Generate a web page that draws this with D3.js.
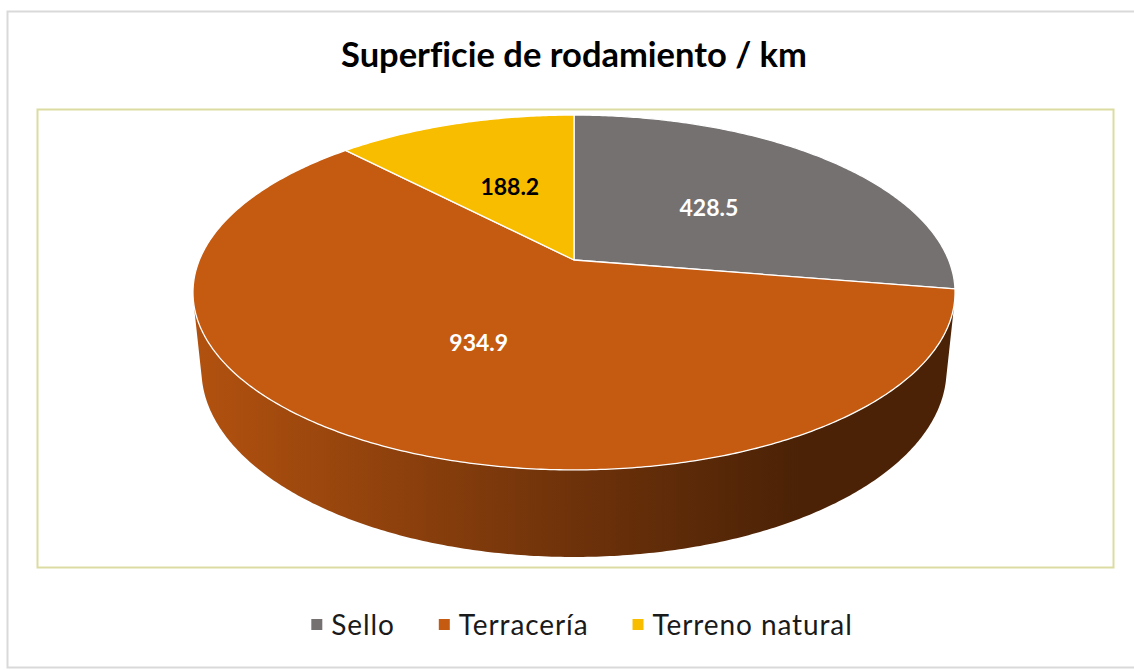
<!DOCTYPE html>
<html>
<head>
<meta charset="utf-8">
<script src="https://cdn.jsdelivr.net/npm/d3@7"></script>
<style>
  body { margin: 0; background: #fff; }
  text { font-family: Lato, "Open Sans", sans-serif; font-variant-ligatures: none; }
</style>
</head>
<body>
<div id="chart"></div>
<script>
// datos del gráfico
const title = "Superficie de rodamiento / km";
const categories = ["Sello", "Terracería", "Terreno natural"];
const values = [428.5, 934.9, 188.2];
const colors = ["#767171", "#C55A11", "#F9BD00"];
const labelColors = ["#ffffff", "#ffffff", "#000000"];

const W = 1134, H = 670;

const svg = d3.select("#chart")
    .append("svg")
    .attr("width", W)
    .attr("height", H);

// bordes (área del gráfico y área de trazado)
svg.append("rect")
    .attr("x", 7.5).attr("y", 11.5)
    .attr("width", 1132).attr("height", 656)
    .attr("fill", "#fff")
    .attr("stroke", "#d9d9d9")
    .attr("stroke-width", 2);

svg.append("rect")
    .attr("x", 37.5).attr("y", 109.5)
    .attr("width", 1076).attr("height", 458)
    .attr("fill", "none")
    .attr("stroke", "#dcdca2")
    .attr("stroke-width", 2);

// título
svg.append("text")
    .attr("x", 574).attr("y", 67)
    .attr("text-anchor", "middle")
    .attr("font-size", 34.5)
    .attr("font-weight", "bold")
    .attr("fill", "#000")
    .text(title);

// proyección en perspectiva del pastel 3D
const cx = 574, cy = 260;
const S = 374.6;            // radio horizontal en pantalla
const phi = Math.asin(0.4578);  // inclinación de la cámara
const RD = 0.2058;          // radio / distancia de la cámara
const depth = 0.2332;       // grosor (en unidades de radio)

function project(theta, f, z) {
    const X = f * Math.sin(theta), Y = f * Math.cos(theta);
    const v = Y * Math.sin(phi) + z * Math.cos(phi);
    const w = Y * Math.cos(phi) - z * Math.sin(phi);
    const p = 1 / (1 + w * RD);
    return [cx + S * X * p, cy - S * v * p];
}

const color = d3.scaleOrdinal().domain(categories).range(colors);

const pie = d3.pie().sort(null).value(d => d.value);
const arcs = pie(categories.map((c, i) => ({name: c, value: values[i], i: i})));

const line = d3.line();

function rim(a0, a1, z) {
    const n = Math.max(2, Math.ceil((a1 - a0) / 0.01));
    return d3.range(n + 1).map(k => project(a0 + (a1 - a0) * k / n, 1, z));
}

function shade(c, k) {
    const col = d3.rgb(c);
    return d3.rgb(col.r * k, col.g * k, col.b * k).formatHex();
}

// degradados para los lados
const defs = svg.append("defs");
arcs.forEach(a => {
    const g = defs.append("linearGradient")
        .attr("id", "side" + a.data.i)
        .attr("gradientUnits", "userSpaceOnUse")
        .attr("x1", cx - S).attr("x2", cx + S)
        .attr("y1", 0).attr("y2", 0);
    [[0, 0.9], [0.5, 0.56], [0.8, 0.38], [1, 0.38]].forEach(s => {
        g.append("stop").attr("offset", s[0]).attr("stop-color", shade(color(a.data.name), s[1]));
    });
});

// lado visible del cilindro
const vis = Math.acos(-RD / Math.cos(phi));
const pieG = svg.append("g");
arcs.forEach(a => {
    const t0 = Math.max(a.startAngle, vis), t1 = Math.min(a.endAngle, 2 * Math.PI - vis);
    if (t1 <= t0) return;
    const pts = rim(t0, t1, 0).concat(rim(t0, t1, -depth).reverse());
    pieG.append("path")
        .attr("d", line(pts) + "Z")
        .attr("fill", `url(#side${a.data.i})`);
});

// caras superiores
arcs.forEach(a => {
    const pts = [project(0, 0, 0)].concat(rim(a.startAngle, a.endAngle, 0));
    pieG.append("path")
        .attr("d", line(pts) + "Z")
        .attr("fill", color(a.data.name))
        .attr("stroke", "#fff")
        .attr("stroke-width", 1.3)
        .attr("stroke-linejoin", "round");
});

// etiquetas de datos
arcs.forEach(a => {
    const p = project((a.startAngle + a.endAngle) / 2, 0.5, 0);
    pieG.append("text")
        .attr("x", p[0]).attr("y", p[1])
        .attr("dy", "0.35em")
        .attr("text-anchor", "middle")
        .attr("font-size", 23)
        .attr("font-weight", "bold")
        .attr("fill", labelColors[a.data.i])
        .text(d3.format(".1f")(a.data.value));
});

// leyenda
const legend = svg.append("g");
let lx = 0;
const gap = 44;
categories.forEach((c, i) => {
    const item = legend.append("g").attr("transform", `translate(${lx},0)`);
    item.append("rect")
        .attr("x", 0).attr("y", -6)
        .attr("width", 11).attr("height", 11)
        .attr("fill", color(c));
    const t = item.append("text")
        .attr("x", 20).attr("y", 0)
        .attr("dy", "0.35em")
        .attr("font-size", 28)
        .attr("letter-spacing", 0.9)
        .attr("fill", "#1a1a1a")
        .text(c);
    lx += 20 + t.node().getComputedTextLength() + gap;
});
lx -= gap;
legend.attr("transform", `translate(${582 - lx / 2},625)`);
</script>
</body>
</html>
